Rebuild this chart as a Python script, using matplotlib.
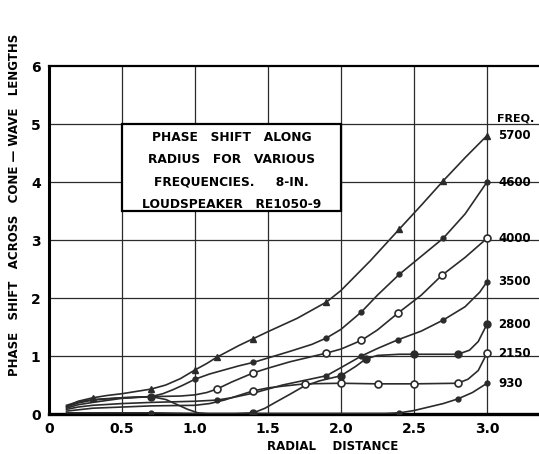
import matplotlib
matplotlib.use("Agg")
import matplotlib.pyplot as plt
from matplotlib.patches import Rectangle

# phase shift across the cone (wave lengths) against radial distance, one curve per frequency
x_5700 = [0.12, 0.2, 0.3, 0.4, 0.5, 0.6, 0.7, 0.8, 0.9, 1.0, 1.08, 1.15, 1.3, 1.4, 1.5, 1.7, 1.9,
          2.0, 2.2, 2.4, 2.55, 2.7, 2.85, 3.0]
y_5700 = [0.13, 0.22, 0.28, 0.32, 0.35, 0.39, 0.43, 0.5, 0.61, 0.76, 0.87, 0.98, 1.18, 1.3, 1.42, 1.65, 1.93,
          2.13, 2.64, 3.19, 3.6, 4.02, 4.42, 4.8]
m_5700 = [0.3, 0.7, 1.0, 1.15, 1.4, 1.9, 2.4, 2.7, 3.0]

x_4600 = [0.12, 0.2, 0.3, 0.5, 0.7, 0.78, 0.85, 0.92, 1.0, 1.1, 1.2, 1.3, 1.4, 1.65, 1.8, 1.9,
          2.0, 2.14, 2.25, 2.4, 2.55, 2.7, 2.85, 3.0]
y_4600 = [0.12, 0.19, 0.24, 0.28, 0.3, 0.35, 0.42, 0.5, 0.6, 0.69, 0.76, 0.83, 0.89, 1.08, 1.2, 1.31,
          1.46, 1.76, 2.05, 2.41, 2.72, 3.03, 3.45, 4.0]
m_4600 = [1.0, 1.4, 1.9, 2.14, 2.4, 2.7, 3.0]

x_4000 = [0.12, 0.2, 0.3, 0.5, 0.7, 0.9, 1.0, 1.08, 1.15, 1.25, 1.4, 1.5, 1.65, 1.9, 2.0, 2.14,
          2.25, 2.39, 2.55, 2.69, 2.85, 3.0]
y_4000 = [0.1, 0.16, 0.2, 0.27, 0.3, 0.31, 0.33, 0.37, 0.43, 0.55, 0.71, 0.79, 0.9, 1.05, 1.12, 1.27,
          1.45, 1.74, 2.05, 2.39, 2.7, 3.03]
m_4000 = [1.15, 1.4, 1.9, 2.14, 2.39, 2.69, 3.0]

x_3500 = [0.12, 0.2, 0.3, 0.5, 0.7, 1.0, 1.15, 1.25, 1.4, 1.6, 1.75, 1.9, 2.0, 2.14, 2.25, 2.39,
          2.55, 2.7, 2.85, 2.95, 3.0]
y_3500 = [0.08, 0.12, 0.15, 0.18, 0.2, 0.22, 0.24, 0.28, 0.36, 0.5, 0.58, 0.66, 0.8, 1.0, 1.13, 1.28,
          1.43, 1.62, 1.85, 2.1, 2.28]
m_3500 = [1.15, 1.9, 2.14, 2.39, 2.7, 3.0]

x_2800 = [0.12, 0.2, 0.3, 0.5, 0.7, 0.8, 0.88, 0.95, 1.02, 1.1, 1.25, 1.4, 1.48, 1.55, 1.65, 1.74,
          1.85, 2.0, 2.1, 2.17, 2.25, 2.4, 2.5, 2.8, 2.88, 2.94, 3.0]
y_2800 = [0.15, 0.21, 0.25, 0.28, 0.3, 0.25, 0.16, 0.08, 0.02, 0.0, 0.0, 0.02, 0.1, 0.2, 0.34, 0.47,
          0.57, 0.66, 0.82, 0.95, 1.01, 1.03, 1.03, 1.03, 1.1, 1.25, 1.55]
m_2800 = [0.7, 1.4, 2.0, 2.17, 2.5, 2.8, 3.0]

x_2150 = [0.12, 0.3, 0.5, 0.7, 1.0, 1.1, 1.2, 1.3, 1.4, 1.5, 1.6, 1.75, 2.0, 2.25, 2.5, 2.8,
          2.87, 2.94, 3.0]
y_2150 = [0.05, 0.1, 0.12, 0.14, 0.15, 0.18, 0.24, 0.32, 0.4, 0.45, 0.48, 0.52, 0.53, 0.52, 0.52, 0.53,
          0.6, 0.75, 1.05]
m_2150 = [1.4, 1.75, 2.0, 2.25, 2.5, 2.8, 3.0]

x_930 = [0.12, 0.5, 0.7, 1.0, 1.5, 2.0, 2.3, 2.4, 2.5, 2.6, 2.7, 2.8, 2.9, 3.0]
y_930 = [0.02, 0.02, 0.02, 0.01, 0.01, 0.01, 0.01, 0.02, 0.06, 0.12, 0.18, 0.26, 0.37, 0.53]
m_930 = [0.7, 2.4, 2.8, 3.0]

freq_labels = ["5700", "4600", "4000", "3500", "2800", "2150", "930"]
x_ticks = [0, 0.5, 1.0, 1.5, 2.0, 2.5, 3.0]
x_tick_labels = ["0", "0.5", "1.0", "1.5", "2.0", "2.5", "3.0"]
y_ticks = [0, 1, 2, 3, 4, 5, 6]

box_lines = ["PHASE   SHIFT   ALONG",
             "RADIUS   FOR   VARIOUS",
             "FREQUENCIES.     8-IN.",
             "LOUDSPEAKER   RE1050-9"]

ink = "#2b2b2b"
fig = plt.figure(figsize=(5.39, 4.54), dpi=100)
ax = fig.add_axes([0.0909, 0.0881, 0.9091, 0.7665])
ax.set_xlim(0, 3.356)
ax.set_ylim(0, 6)

for v in x_ticks[1:]:
    ax.axvline(v, color=ink, lw=0.9, zorder=1)
for v in y_ticks[1:6]:
    ax.axhline(v, color=ink, lw=0.9, zorder=1)

# caption box sits over the grid
ax.add_patch(Rectangle((0.5, 3.5), 1.5, 1.5, facecolor="white", edgecolor="black", lw=1.6, zorder=3))
for i, line in enumerate(box_lines):
    ax.text(1.25, 4.76 - i * 0.38, line, ha="center", va="center", fontsize=8.8,
            fontweight="bold", color="black", zorder=4)

series = [
    (x_5700, y_5700, m_5700, dict(marker="^", ms=5, mfc=ink, mec=ink)),
    (x_4600, y_4600, m_4600, dict(marker="o", ms=3.5, mfc=ink, mec=ink)),
    (x_4000, y_4000, m_4000, dict(marker="o", ms=5, mfc="white", mec=ink, mew=1.2)),
    (x_3500, y_3500, m_3500, dict(marker="o", ms=3.5, mfc=ink, mec=ink)),
    (x_2800, y_2800, m_2800, dict(marker="o", ms=5, mfc=ink, mec=ink)),
    (x_2150, y_2150, m_2150, dict(marker="o", ms=5, mfc="white", mec=ink, mew=1.2)),
    (x_930, y_930, m_930, dict(marker="o", ms=3.5, mfc=ink, mec=ink)),
]
for xs, ys, marks, style in series:
    ax.plot(xs, ys, color=ink, lw=1.2, zorder=5, solid_joinstyle="round")
    idx = [xs.index(m) for m in marks]
    ax.plot([xs[i] for i in idx], [ys[i] for i in idx], ls="none", zorder=6, **style)

# frequency labels at the curve ends
ax.text(3.07, 5.1, "FREQ.", fontsize=8, fontweight="bold", va="center", ha="left")
for (xs, ys, _, _), lab in zip(series, freq_labels):
    ax.text(3.075, ys[-1], lab, fontsize=8.5, fontweight="bold", va="center", ha="left")

ax.set_xticks(x_ticks)
ax.set_xticklabels(x_tick_labels)
ax.set_yticks(y_ticks)
ax.tick_params(length=0, labelsize=10, pad=6)
for lab in ax.get_xticklabels() + ax.get_yticklabels():
    lab.set_fontweight("bold")

ax.spines["right"].set_visible(False)
ax.spines["left"].set_linewidth(2.2)
ax.spines["bottom"].set_linewidth(2.4)
ax.spines["top"].set_linewidth(1.6)

fig.text(333 / 539, 1 - 446 / 454, "RADIAL    DISTANCE", ha="center", va="center",
         fontsize=8.5, fontweight="bold")
fig.text(15 / 539, 1 - 205 / 454, "PHASE   SHIFT   ACROSS   CONE \u2014 WAVE   LENGTHS",
         rotation=90, ha="center", va="center", fontsize=8.5, fontweight="bold")

fig.savefig("out.png", dpi=100)
